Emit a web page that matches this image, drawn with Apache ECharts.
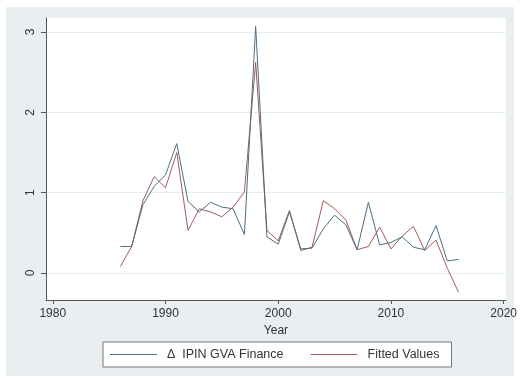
<!DOCTYPE html>
<html>
<head>
<meta charset="utf-8">
<script src="https://cdn.jsdelivr.net/npm/echarts@6/dist/echarts.min.js"></script>
<style>
html,body{margin:0;padding:0;background:#ffffff;}
#c{width:520px;height:380px;}
</style>
</head>
<body>
<div id="c"></div>
<script>
var years = [1986,1987,1988,1989,1990,1991,1992,1993,1994,1995,1996,1997,1998,1999,2000,2001,2002,2003,2004,2005,2006,2007,2008,2009,2010,2011,2012,2013,2014,2015,2016];
var actual = [0.33,0.33,0.85,1.08,1.22,1.61,0.89,0.76,0.88,0.82,0.80,0.48,3.07,0.45,0.36,0.76,0.30,0.31,0.55,0.72,0.60,0.29,0.88,0.35,0.38,0.45,0.32,0.29,0.59,0.15,0.17];
var fitted = [0.08,0.33,0.90,1.20,1.06,1.50,0.53,0.80,0.76,0.70,0.82,1.01,2.62,0.53,0.40,0.78,0.28,0.32,0.90,0.80,0.66,0.29,0.33,0.57,0.30,0.46,0.58,0.28,0.41,0.06,-0.24];
var yTicks = [0,1,2,3];
var xTicks = [1980,1990,2000,2010,2020];
var seriesNames = ['\u0394  IPIN GVA Finance','Fitted Values'];

function pairs(v){ return years.map(function(y,i){ return [y, v[i]]; }); }

var chart = echarts.init(document.getElementById('c'), null, {renderer:'canvas'});
var font = 'Liberation Sans, Arial, sans-serif';
var cActual = '#4a6f85', cFitted = '#a35a5c';
chart.setOption({
  backgroundColor: '#ffffff',
  animation: false,
  graphic: [{
    type: 'rect', z: -10, silent: true,
    shape: {x: 6, y: 7, width: 508, height: 369},
    style: {fill: '#e9eef0'}
  }],
  grid: {left: 46, top: 18, right: 10, bottom: 80, show: true, backgroundColor: '#ffffff', borderWidth: 0},
  xAxis: {
    type: 'value', min: 1979.4, max: 2020.2,
    name: 'Year', nameLocation: 'middle', nameGap: 23,
    nameTextStyle: {color: '#333', fontSize: 12, fontFamily: font},
    axisLine: {show: true, onZero: false, lineStyle: {color: '#555', width: 1}},
    axisTick: {show: true, length: 4, customValues: xTicks, lineStyle: {color: '#555'}},
    axisLabel: {customValues: xTicks, color: '#333', fontSize: 12, fontFamily: font, margin: 8,
      formatter: function(v){ return String(Math.round(v)); }},
    splitLine: {show: false}
  },
  yAxis: {
    type: 'value', min: -0.336, max: 3.174,
    axisLine: {show: true, onZero: false, lineStyle: {color: '#555', width: 1}},
    axisTick: {show: true, length: 5, customValues: yTicks, lineStyle: {color: '#555'}},
    axisLabel: {customValues: yTicks, rotate: 90, color: '#333', fontSize: 12, fontFamily: font, margin: 9},
    splitLine: {show: true, lineStyle: {color: '#e6edf0', width: 1}}
  },
  legend: {
    left: 103, top: 342,
    padding: [6, 12, 6, 7],
    itemGap: 27, itemWidth: 47, itemHeight: 1,
    borderColor: '#777', borderWidth: 1, borderRadius: 0,
    backgroundColor: '#ffffff',
    icon: 'rect',
    textStyle: {color: '#333', fontSize: 12.5, fontFamily: font, padding: [0,0,0,5]},
    data: [
      {name: seriesNames[0], itemStyle: {color: cActual}},
      {name: seriesNames[1], itemStyle: {color: cFitted}}
    ]
  },
  series: [
    {name: seriesNames[1], type: 'line', data: pairs(fitted), showSymbol: false, z: 2,
     lineStyle: {color: cFitted, width: 1}, itemStyle: {color: cFitted}},
    {name: seriesNames[0], type: 'line', data: pairs(actual), showSymbol: false, z: 3,
     lineStyle: {color: cActual, width: 1}, itemStyle: {color: cActual}}
  ]
});
</script>
</body>
</html>
